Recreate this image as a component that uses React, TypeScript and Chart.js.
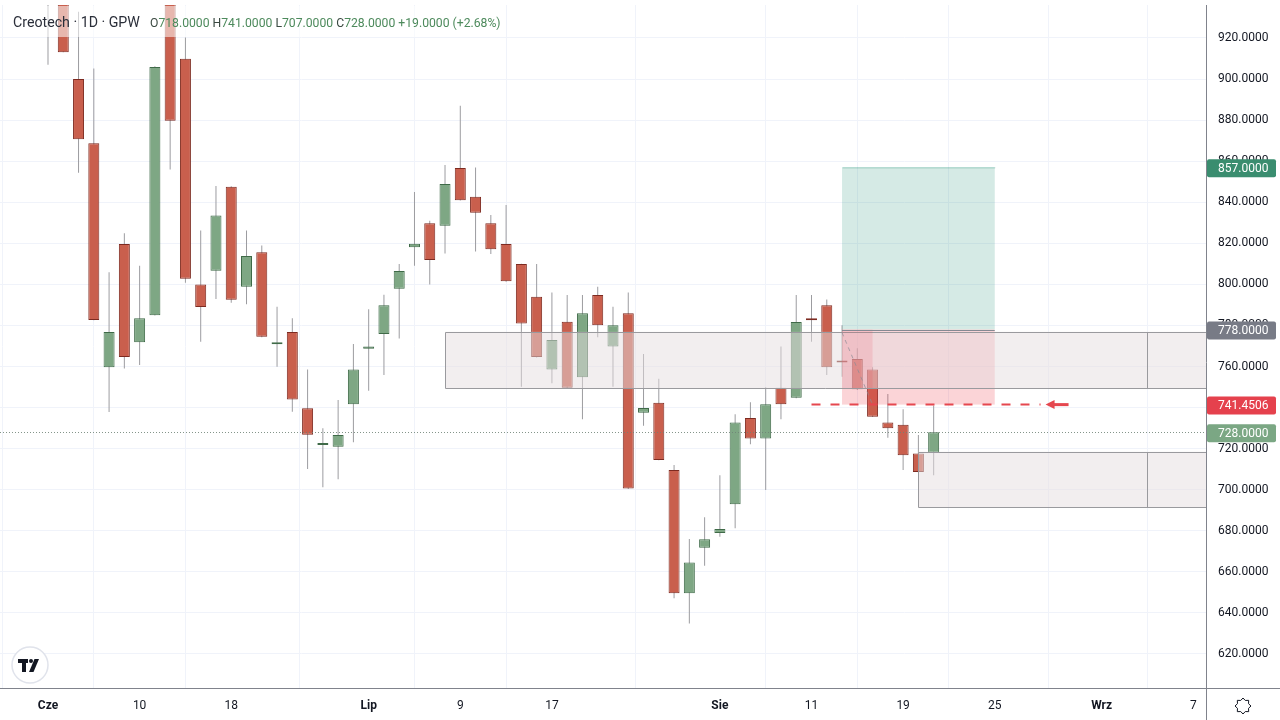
import React, { useEffect, useRef } from "react";
import { Chart, registerables } from "chart.js";

Chart.register(...registerables);

// ---- data ----
const opens = [
  950, 948, 900.0, 868.7, 759.6, 819.7, 771.8, 785.0, 945, 909.9,
  799.9, 806.7, 847.6, 798.9, 815.6, 770.8, 776.8, 739.7, 721.8, 720.9,
  741.6, 768.7, 775.8, 797.9, 818.1, 829.8, 828.6, 856.7, 842.7, 829.8,
  819.7, 809.9, 794.0, 758.6, 781.8, 754.8, 794.8, 769.7, 785.9, 737.5,
  742.4, 709.6, 649.6, 671.8, 678.9, 692.9, 734.9, 724.9, 749.7, 744.8,
  783.5, 789.8, 762.2, 763.7, 758.6, 732.7, 731.7, 717.7, 718.0,
];
const highs = [
  955, 952, 932.8, 905.2, 805.9, 824.9, 809.1, 906.2, 948, 920.2,
  826.2, 847.9, 847.8, 826.2, 818.9, 789.1, 783.5, 758.6, 729.9, 743.7,
  771.0, 787.9, 795.0, 809.9, 845.0, 831.0, 858.1, 887.0, 856.9, 833.8,
  838.7, 810.0, 809.9, 796.1, 794.8, 794.8, 798.9, 789.1, 796.1, 766.1,
  754.1, 712.0, 676.0, 686.6, 707.0, 736.7, 742.6, 749.9, 769.7, 794.8,
  794.8, 792.7, 780.1, 768.9, 759.6, 746.6, 739.2, 726.7, 741.0,
];
const lows = [
  907, 913, 854.4, 782.5, 737.9, 759.1, 760.7, 784.8, 856.0, 800.8,
  772.1, 792.9, 791.1, 790.3, 774.3, 759.9, 738.0, 710.1, 701.2, 705.1,
  723.1, 748.2, 755.9, 773.7, 809.1, 800.0, 815.1, 840.8, 816.0, 814.8,
  801.3, 750.2, 764.4, 751.8, 749.5, 734.3, 774.2, 750.2, 700.4, 731.2,
  714.3, 647.1, 634.9, 663.0, 677.1, 681.2, 722.1, 699.9, 734.3, 744.6,
  772.1, 755.9, 755.0, 748.7, 735.4, 725.3, 709.6, 708.4, 707.0,
];
const closes = [
  942, 913, 870.7, 782.7, 776.8, 764.6, 783.5, 905.9, 879.7, 802.8,
  789.0, 833.6, 792.5, 813.8, 774.5, 771.8, 744.0, 726.8, 722.6, 726.7,
  758.6, 769.7, 789.8, 806.5, 819.8, 811.9, 848.9, 841.0, 834.9, 817.1,
  801.5, 780.9, 764.6, 772.9, 749.7, 785.9, 780.1, 780.1, 700.6, 739.8,
  714.5, 649.6, 664.5, 675.9, 680.9, 732.7, 724.9, 741.6, 741.6, 781.7,
  782.5, 759.6, 762.0, 748.9, 735.6, 729.9, 716.8, 708.6, 728.0,
];

const xTickIndex = [0, 6, 12, 21, 27, 33, 44, 50, 56, 62, 69, 75];
const xTickLabels = ["Cze", "10", "18", "Lip", "9", "17", "Sie", "11", "19", "25", "Wrz", "7"];
const monthLabels = ["Cze", "Lip", "Sie", "Wrz"];
const yTicks = [620, 640, 660, 680, 700, 720, 740, 760, 780, 800, 820, 840, 860, 880, 900, 920];

// drawings (bar index / price)
const zoneUpper = { from: 26, mark: 72, top: 776.9, bottom: 749.5 };
const zoneLower = { from: 57, mark: 72, top: 718.5, bottom: 691.4 };
const position = { from: 52, to: 62, entry: 778, target: 857, stop: 741.4506, hitBar: 54 };
const stopLine = { from: 50, to: 65, price: 741.4506 };
const lastPrice = 728;

const header = "Creotech · 1D · GPW";
const ohlcParts: [string, string][] = [
  ["O", "718.0000"],
  [" H", "741.0000"],
  [" L", "707.0000"],
  [" C", "728.0000"],
  [" ", "+19.0000 (+2.68%)"],
];

const FONT = "Roboto, 'Liberation Sans', sans-serif";
const X_MIN = -3.1434;
const X_MAX = 75.835;
const Y_MIN = 603.44;
const Y_MAX = 936.07;

const RED_FILL = "#c95f4d";
const RED_BORDER = "#7d2a20";
const GREEN_FILL = "#7ea784";
const GREEN_BORDER = "#3f6a48";

const overlayPlugin = {
  id: "tvOverlay",
  afterDraw(chart: any) {
    const { ctx, chartArea: ca, scales } = chart;
    const xs = scales.x;
    const ys = scales.y;
    const px = (i: number) => xs.getPixelForValue(i);
    const py = (v: number) => ys.getPixelForValue(v);

    ctx.save();
    ctx.beginPath();
    ctx.rect(ca.left, ca.top, ca.right - ca.left, ca.bottom - ca.top);
    ctx.clip();

    // last price dotted line
    ctx.strokeStyle = "rgba(110,130,118,0.85)";
    ctx.lineWidth = 1;
    ctx.setLineDash([1, 2]);
    ctx.beginPath();
    ctx.moveTo(ca.left, Math.round(py(lastPrice)) + 0.5);
    ctx.lineTo(ca.right, Math.round(py(lastPrice)) + 0.5);
    ctx.stroke();
    ctx.setLineDash([]);

    // long position: target zone
    const pL = px(position.from);
    const pR = px(position.to);
    ctx.fillStyle = "rgba(20,140,110,0.18)";
    ctx.fillRect(pL, py(position.target), pR - pL, py(position.entry) - py(position.target));
    ctx.strokeStyle = "rgba(20,140,110,0.18)";
    ctx.strokeRect(pL + 0.5, py(position.target) + 0.5, pR - pL, 0);
    // stop zone
    ctx.fillStyle = "rgba(235,60,75,0.22)";
    ctx.fillRect(pL, py(position.entry), pR - pL, py(position.stop) - py(position.entry));

    // grey zones
    const drawZone = (z: any) => {
      const l = px(z.from);
      const t = py(z.top);
      const b = py(z.bottom);
      ctx.fillStyle = "rgba(230,222,224,0.5)";
      ctx.fillRect(l, t, ca.right - l, b - t);
      ctx.strokeStyle = "#9a9a9e";
      ctx.lineWidth = 1;
      ctx.beginPath();
      ctx.moveTo(ca.right, Math.round(t) + 0.5);
      ctx.lineTo(Math.round(l) + 0.5, Math.round(t) + 0.5);
      ctx.lineTo(Math.round(l) + 0.5, Math.round(b) + 0.5);
      ctx.lineTo(ca.right, Math.round(b) + 0.5);
      const m = Math.round(px(z.mark)) + 0.5;
      ctx.moveTo(m, Math.round(t) + 0.5);
      ctx.lineTo(m, Math.round(b) + 0.5);
      ctx.stroke();
    };
    drawZone(zoneUpper);
    drawZone(zoneLower);

    // darker part of stop zone (entry -> hit)
    ctx.fillStyle = "rgba(235,60,75,0.14)";
    ctx.fillRect(pL, py(position.entry), px(position.hitBar) - pL, py(zoneUpper.bottom) - py(position.entry));

    // entry line
    ctx.strokeStyle = "#868993";
    ctx.lineWidth = 1;
    ctx.beginPath();
    ctx.moveTo(pL, Math.round(py(position.entry)) + 0.5);
    ctx.lineTo(pR, Math.round(py(position.entry)) + 0.5);
    ctx.stroke();

    // diagonal dashed path
    ctx.strokeStyle = "rgba(140,140,150,0.7)";
    ctx.setLineDash([4, 4]);
    ctx.beginPath();
    ctx.moveTo(pL, py(position.entry - 1.5));
    ctx.lineTo(px(position.hitBar), py(position.stop));
    ctx.stroke();
    ctx.setLineDash([]);

    // red dashed stop line
    const sy = py(stopLine.price);
    ctx.strokeStyle = "#e5474f";
    ctx.lineWidth = 2;
    ctx.setLineDash([9, 10]);
    ctx.beginPath();
    ctx.moveTo(px(stopLine.from), sy);
    ctx.lineTo(px(stopLine.to), sy);
    ctx.stroke();
    ctx.setLineDash([]);
    // arrow
    const ax = px(stopLine.to) + 5;
    ctx.fillStyle = "#e5474f";
    ctx.beginPath();
    ctx.moveTo(ax, sy);
    ctx.lineTo(ax + 9, sy - 4.5);
    ctx.lineTo(ax + 9, sy + 4.5);
    ctx.closePath();
    ctx.fill();
    ctx.fillRect(ax + 8, sy - 1.5, 15, 3);

    // header background + text
    ctx.fillStyle = "rgba(255,255,255,0.55)";
    ctx.fillRect(8, 6, 497, 31);
    ctx.textBaseline = "middle";
    ctx.textAlign = "left";
    ctx.font = `14.2px ${FONT}`;
    ctx.fillStyle = "#2a2e39";
    ctx.fillText(header, 13, 23);
    let hx = 150;
    ctx.font = `12.2px ${FONT}`;
    for (const [lab, val] of ohlcParts) {
      ctx.fillStyle = "#3b4a42";
      ctx.fillText(lab, hx, 24);
      hx += ctx.measureText(lab).width;
      ctx.fillStyle = "#4d8a5c";
      ctx.fillText(val, hx, 24);
      hx += ctx.measureText(val).width;
    }
    ctx.restore();

    // axis lines
    ctx.save();
    ctx.strokeStyle = "#80838c";
    ctx.lineWidth = 1;
    ctx.beginPath();
    ctx.moveTo(0, Math.round(ca.bottom) + 0.5);
    ctx.lineTo(chart.width, Math.round(ca.bottom) + 0.5);
    ctx.moveTo(Math.round(ca.right) + 0.5, ca.top);
    ctx.lineTo(Math.round(ca.right) + 0.5, chart.height);
    ctx.stroke();

    // price tags
    const tag = (v: number, text: string, bg: string) => {
      const y = py(v) + 1;
      ctx.fillStyle = bg;
      ctx.beginPath();
      (ctx as any).roundRect(ca.right + 1, y - 9, 69, 18, 2);
      ctx.fill();
      ctx.fillStyle = "#ffffff";
      ctx.font = `12px ${FONT}`;
      ctx.textAlign = "left";
      ctx.textBaseline = "middle";
      ctx.fillText(text, ca.right + 12, y + 0.5);
    };
    tag(position.target, position.target.toFixed(4), "#3a8d6f");
    tag(position.entry, position.entry.toFixed(4), "#787b86");
    tag(position.stop, position.stop.toFixed(4), "#e5414d");
    tag(lastPrice, lastPrice.toFixed(4), "#7ba784");

    // TradingView logo
    ctx.fillStyle = "#ffffff";
    ctx.strokeStyle = "#e0e3eb";
    ctx.lineWidth = 1.5;
    ctx.beginPath();
    ctx.arc(30, 665, 18, 0, Math.PI * 2);
    ctx.fill();
    ctx.stroke();
    ctx.fillStyle = "#131722";
    ctx.fillRect(18, 659, 10, 4);
    ctx.fillRect(22, 659, 4, 13);
    ctx.beginPath();
    ctx.arc(31, 661, 2, 0, Math.PI * 2);
    ctx.fill();
    ctx.beginPath();
    ctx.moveTo(29, 672);
    ctx.lineTo(33.5, 672);
    ctx.lineTo(39, 659);
    ctx.lineTo(34.5, 659);
    ctx.closePath();
    ctx.fill();

    // gear icon
    const gx = 1243;
    const gy = 706;
    ctx.strokeStyle = "#131722";
    ctx.lineWidth = 1;
    ctx.beginPath();
    for (let k = 0; k < 16; k++) {
      const a = (k / 16) * Math.PI * 2;
      const r = k % 2 === 0 ? 8 : 6;
      const xx = gx + r * Math.cos(a);
      const yy = gy + r * Math.sin(a);
      if (k === 0) ctx.moveTo(xx, yy);
      else ctx.lineTo(xx, yy);
    }
    ctx.closePath();
    ctx.stroke();
    ctx.restore();
  },
};

export default function App() {
  const canvasRef = useRef<HTMLCanvasElement | null>(null);

  useEffect(() => {
    document.body.style.margin = "0";
    const canvas = canvasRef.current;
    if (!canvas) return;

    const wickData = opens.map((_, i) => ({ x: i, y: [lows[i], highs[i]] }));
    const bodyData = opens.map((o, i) => ({ x: i, y: [Math.min(o, closes[i]), Math.max(o, closes[i])] }));
    const up = opens.map((o, i) => closes[i] >= o);

    const chart = new Chart(canvas, {
      type: "bar",
      data: {
        datasets: [
          {
            // bodies (dataset 0 is painted last, i.e. above the wicks)
            data: bodyData as any,
            backgroundColor: up.map((u) => (u ? GREEN_FILL : RED_FILL)),
            borderColor: up.map((u) => (u ? GREEN_BORDER : RED_BORDER)),
            borderWidth: 1,
            borderSkipped: false,
            barThickness: 11,
            minBarLength: 2,
            grouped: false,
            inflateAmount: 0,
          } as any,
          {
            // wicks
            data: wickData as any,
            backgroundColor: "#9c9ca0",
            barThickness: 1,
            grouped: false,
            borderWidth: 0,
            inflateAmount: 0,
          } as any,
        ],
      },
      options: {
        animation: false,
        responsive: false,
        events: [],
        layout: { padding: { top: 5, left: 0, right: 0, bottom: 0 } },
        plugins: { legend: { display: false }, tooltip: { enabled: false } },
        scales: {
          x: {
            type: "linear",
            min: X_MIN,
            max: X_MAX,
            offset: false,
            grid: { color: "#f0f3fa", drawTicks: false },
            border: { display: false },
            afterBuildTicks: (axis: any) => {
              axis.ticks = xTickIndex.map((v) => ({ value: v }));
            },
            afterFit: (s: any) => {
              s.height = 32;
              s.paddingLeft = 0;
              s.paddingRight = 0;
            },
            ticks: {
              padding: 11,
              autoSkip: false,
              maxRotation: 0,
              color: "#131722",
              font: (c: any) => {
                const idx = xTickIndex.indexOf(c.tick ? c.tick.value : -1);
                const lab = idx >= 0 ? xTickLabels[idx] : "";
                return { family: FONT, size: 12, weight: monthLabels.includes(lab) ? "bold" : "normal" };
              },
              callback: (v: any) => {
                const idx = xTickIndex.indexOf(Number(v));
                return idx >= 0 ? xTickLabels[idx] : "";
              },
            },
          },
          y: {
            position: "right",
            min: Y_MIN,
            max: Y_MAX,
            grid: { color: "#f0f3fa", drawTicks: false },
            border: { display: false },
            afterBuildTicks: (axis: any) => {
              axis.ticks = yTicks.map((v) => ({ value: v }));
            },
            afterFit: (s: any) => {
              s.width = 74;
              s.paddingTop = 0;
              s.paddingBottom = 0;
            },
            ticks: {
              padding: 12,
              color: "#131722",
              font: { family: FONT, size: 12 },
              callback: (v: any) => Number(v).toFixed(4),
            },
          },
        },
      } as any,
      plugins: [overlayPlugin],
    });

    return () => chart.destroy();
  }, []);

  return (
    <div style={{ position: "fixed", left: 0, top: 0, width: 1280, height: 720, background: "#ffffff" }}>
      <canvas ref={canvasRef} width={1280} height={720} style={{ display: "block" }} />
    </div>
  );
}
